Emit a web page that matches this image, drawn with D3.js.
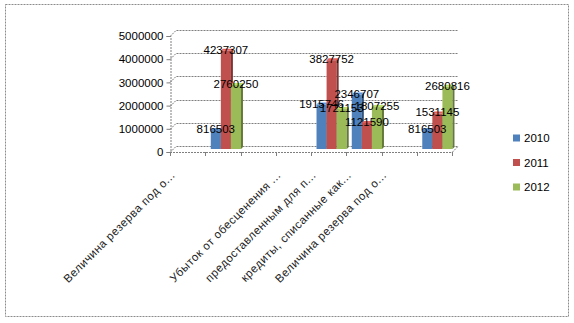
<!DOCTYPE html>
<html>
<head>
<meta charset="utf-8">
<script src="https://cdn.jsdelivr.net/npm/d3@7"></script>
<style>
  html, body { margin: 0; padding: 0; background: #fff; }
  svg { display: block; }
</style>
</head>
<body>
<div id="chart"></div>
<script>
// Category names (blank entries are rows without a caption)
const categories = [
  "Величина резерва под о...",
  "",
  "",
  "Убыток от обесценения ...",
  "предоставленным для п...",
  "кредиты, списанные как...",
  "Величина резерва под о...",
  ""
];
const years = ["2010", "2011", "2012"];
const values2010 = [null, 816503, null, null, 1915746, 2346707, null, 816503];
const values2011 = [null, 4237307, null, null, 3827752, 1121590, null, 1531145];
const values2012 = [null, 2760250, null, null, 1721153, 1807255, null, 2680816];
const yTicks = [0, 1000000, 2000000, 3000000, 4000000, 5000000];

const seriesValues = [values2010, values2011, values2012];
const colors = ["#4F81BD", "#C0504D", "#9BBB59"];

const W = 574, H = 323;
const svg = d3.select("#chart").append("svg").attr("width", W).attr("height", H);

// outer chart border
svg.append("rect")
  .attr("x", 5.5).attr("y", 4.5).attr("width", 563).attr("height", 312)
  .attr("fill", "#fff").attr("stroke", "#8c8c8c").attr("stroke-dasharray", "2,1");

// front plane geometry and 3D depth
const plotLeft = 170, plotRight = 452;
const depthX = 6, depthY = 6;
const x = d3.scaleBand().domain(d3.range(categories.length)).range([plotLeft, plotRight]).paddingInner(0).paddingOuter(0);
const y = d3.scaleLinear().domain([0, 5000000]).range([152, 36]);
const xs = d3.scaleBand().domain(d3.range(years.length)).range([0, x.bandwidth()]).paddingInner(0).paddingOuter(0.25);

const gridStyle = sel => sel.attr("stroke", "#7f7f7f").attr("stroke-width", 1).attr("stroke-dasharray", "2,1").attr("fill", "none");

// back wall gridlines with their slanted left ends
const grid = svg.append("g");
yTicks.forEach(t => {
  const yy = Math.round(y(t)) + 0.5;
  grid.append("path")
    .attr("d", `M${plotLeft},${yy} L${plotLeft + depthX},${yy - depthY} L${plotRight + depthX},${yy - depthY}`)
    .call(gridStyle);
});
// floor: front edge and right slant
grid.append("path")
  .attr("d", `M${plotLeft},${y(0) + 0.5} L${plotRight},${y(0) + 0.5} L${plotRight + depthX},${y(0) + 0.5 - depthY}`)
  .call(gridStyle);

// y axis
const yAxis = d3.axisLeft(y).tickValues(yTicks).tickFormat(d3.format("d")).tickSize(4).tickPadding(3);
const gy = svg.append("g").attr("transform", `translate(${plotLeft + 0.5},0)`).call(yAxis);
gy.select(".domain").attr("stroke", "#7f7f7f").attr("stroke-dasharray", "2,1");
gy.selectAll(".tick line").attr("stroke", "#7f7f7f");
gy.selectAll(".tick text").attr("font-family", "Liberation Sans, Arial, sans-serif").attr("font-size", "11.5px").attr("fill", "#000");

// x axis tick marks at category boundaries
const bounds = d3.range(categories.length + 1).map(i => plotLeft + i * x.bandwidth());
svg.append("g").selectAll("line").data(bounds).join("line")
  .attr("x1", d => Math.round(d) + 0.5).attr("x2", d => Math.round(d) + 0.5)
  .attr("y1", y(0)).attr("y2", y(0) + 4)
  .attr("stroke", "#7f7f7f");

// category captions, rotated
svg.append("g").selectAll("text").data(categories.map((c, i) => ({ c, i })).filter(d => d.c))
  .join("text")
  .attr("transform", d => `translate(${x(d.i) + x.bandwidth() / 2 - 12},176) rotate(-45)`)
  .attr("text-anchor", "end")
  .attr("font-family", "Liberation Sans, Arial, sans-serif")
  .attr("font-size", "11.5px")
  .attr("letter-spacing", "0.5px")
  .attr("fill", "#222")
  .text(d => d.c);

// 3D columns placed at mid depth
const bx = 3, by = 3, side = 2;
const bars = [];
seriesValues.forEach((vals, s) => {
  vals.forEach((v, i) => {
    if (v == null) return;
    bars.push({ s, i, v });
  });
});
const barsG = svg.append("g");
bars.forEach(d => {
  const x0 = x(d.i) + xs(d.s) + bx;
  const w = xs.bandwidth();
  const yt = y(d.v) - by, yb = y(0) - by;
  const base = d3.color(colors[d.s]);
  const g = barsG.append("g");
  g.append("rect").attr("x", x0).attr("y", yt).attr("width", w).attr("height", yb - yt).attr("fill", base);
  g.append("path")
    .attr("d", `M${x0 + w},${yt} L${x0 + w + side},${yt - side} L${x0 + w + side},${yb - side} L${x0 + w},${yb} Z`)
    .attr("fill", base.darker(1.2));
  g.append("path")
    .attr("d", `M${x0},${yt} L${x0 + side},${yt - side} L${x0 + w + side},${yt - side} L${x0 + w},${yt} Z`)
    .attr("fill", base.brighter(0.5));
});

// value labels centred on the top of each column
svg.append("g").selectAll("text").data(bars).join("text")
  .attr("x", d => x(d.i) + xs(d.s) + bx + xs.bandwidth() / 2)
  .attr("y", d => y(d.v) - by - 1)
  .attr("text-anchor", "middle")
  .attr("dominant-baseline", "central")
  .attr("font-family", "Liberation Sans, Arial, sans-serif")
  .attr("font-size", "11.5px")
  .attr("fill", "#000")
  .text(d => d.v);

// legend
const legend = svg.append("g");
years.forEach((yr, k) => {
  const cy = 138 + k * 24.5;
  legend.append("rect").attr("x", 513).attr("y", cy - 3.5).attr("width", 7).attr("height", 7).attr("fill", colors[k]);
  legend.append("text").attr("x", 524).attr("y", cy).attr("dominant-baseline", "central")
    .attr("font-family", "Liberation Sans, Arial, sans-serif").attr("font-size", "11.5px").attr("fill", "#000")
    .text(yr);
});
</script>
</body>
</html>
